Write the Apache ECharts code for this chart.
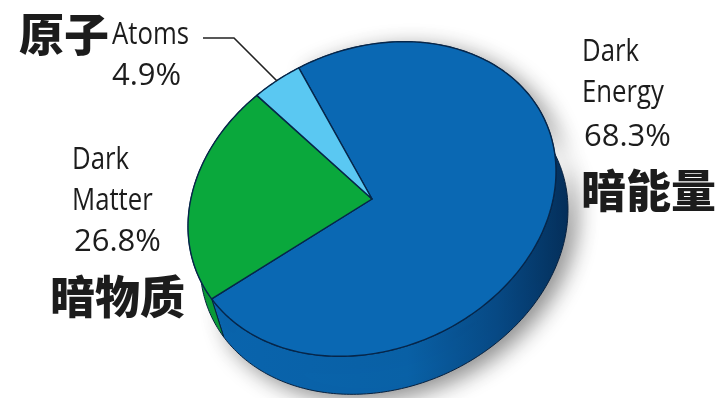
<!DOCTYPE html>
<html><head><meta charset="utf-8">
<style>html,body{margin:0;padding:0;background:#fff}#c{width:720px;height:398px}</style>
<script src="https://cdn.jsdelivr.net/npm/echarts@6/dist/echarts.min.js"></script>
</head><body><div id="c"></div>
<script>
// Composition of the universe, share of total energy density
const categories = ['Dark Energy', 'Dark Matter', 'Atoms'];
const shares = [68.3, 26.8, 4.9];
const faceColors = ['#0a68b3', '#0aa83c', '#5ac8f2'];

// Tilted disc geometry (pixels and degrees)
const cx = 372, cy = 199, rx = 190, ry = 150, tilt = -24;
const wallDx = 12, wallDy = 38;
const startDeg = 275;
// Perspective foreshortening: the near-left arc takes up less of the rim
const perspAmount = 0.10, perspDir = 218;
const total = shares.reduce((a, b) => a + b, 0);

function perspective(deg) {
  const d = (deg - perspDir) * Math.PI / 180;
  const zr = Math.cos(d), zi = Math.sin(d), r = perspAmount;
  const nr = zr + r, ni = zi, dr = 1 + r * zr, di = r * zi;
  return perspDir + (Math.atan2(ni, nr) - Math.atan2(di, dr)) * 180 / Math.PI;
}
function rimPoint(deg) {
  const t = perspective(deg) * Math.PI / 180, a = tilt * Math.PI / 180;
  const u = rx * Math.cos(t), v = ry * Math.sin(t);
  return [cx + u * Math.cos(a) - v * Math.sin(a), cy + u * Math.sin(a) + v * Math.cos(a)];
}
function sliceRange(i) {
  let before = 0;
  for (let k = 0; k < i; k++) before += shares[k];
  const a = startDeg + before / total * 360;
  return [a, a + shares[i] / total * 360];
}
function rimPoints(i) {
  const [a, b] = sliceRange(i), out = [];
  const n = Math.max(8, Math.ceil(b - a));
  for (let k = 0; k <= n; k++) out.push(rimPoint(a + (b - a) * k / n));
  return out;
}

const wallFill = [
  new echarts.graphic.LinearGradient(0, 0, 1, 0, [
    { offset: 0, color: '#0a66b0' }, { offset: 0.55, color: '#0a62a8' },
    { offset: 0.8, color: '#084a86' }, { offset: 1, color: '#05305c' }
  ]),
  '#0a9a38', '#4ab4dc'
];

function renderWall(params, api) {
  const i = api.value(0);
  const rim = rimPoints(i);
  const lower = rim.map(p => [p[0] + wallDx, p[1] + wallDy]).reverse();
  const style = { fill: wallFill[i], stroke: '#07213f', lineWidth: 1 };
  if (i === 0) {
    // Soft drop shadow under the visible part of the disc edge
    style.shadowBlur = 22;
    style.shadowColor = 'rgba(0,0,0,0.45)';
    style.shadowOffsetX = 8;
    style.shadowOffsetY = 6;
  }
  return { type: 'polygon', shape: { points: rim.concat(lower) }, style };
}
function renderFace(params, api) {
  const i = api.value(0);
  return {
    type: 'polygon',
    shape: { points: [[cx, cy]].concat(rimPoints(i)) },
    style: { fill: faceColors[i], stroke: '#06264a', lineWidth: 1.4, lineJoin: 'round' }
  };
}

const items = shares.map((v, i) => [i, v]);
const latin = '"Open Sans",sans-serif';
const cjk = '"Noto Sans CJK SC",sans-serif';
function label(x, y, text, font, size, weight, sx) {
  return { type: 'text', x, y, z: 10, scaleX: sx || 1,
    style: { text, fill: '#1c1c1c', fontFamily: font, fontSize: size, fontWeight: weight || 400, align: 'left', verticalAlign: 'middle' } };
}

const chart = echarts.init(document.getElementById('c'), null, { renderer: 'canvas' });
chart.setOption({
  animation: false,
  backgroundColor: '#fff',
  series: [
    { type: 'custom', coordinateSystem: 'none', renderItem: renderWall, data: items, z: 1 },
    { type: 'custom', coordinateSystem: 'none', renderItem: renderFace, data: items, z: 2 }
  ],
  graphic: [
    label(582, 52, 'Dark', latin, 31, 400, 0.83),
    label(582, 93, 'Energy', latin, 31, 400, 0.83),
    label(584, 137, '68.3%', latin, 31, 400, 1),
    label(581, 191, '暗能量', cjk, 45, 900),
    label(72, 160, 'Dark', latin, 31, 400, 0.83),
    label(72, 201, 'Matter', latin, 31, 400, 0.83),
    label(74, 242, '26.8%', latin, 31, 400, 1),
    label(50, 297, '暗物质', cjk, 45, 900),
    label(19, 35, '原子', cjk, 45, 900),
    label(112, 35, 'Atoms', latin, 31, 400, 0.83),
    label(112, 76, '4.9%', latin, 31, 400, 1),
    { type: 'polyline', z: 10, shape: { points: [[203, 38], [234, 38], [277, 81]] }, style: { stroke: '#222', lineWidth: 1.6, fill: null } }
  ]
});
</script></body></html>
